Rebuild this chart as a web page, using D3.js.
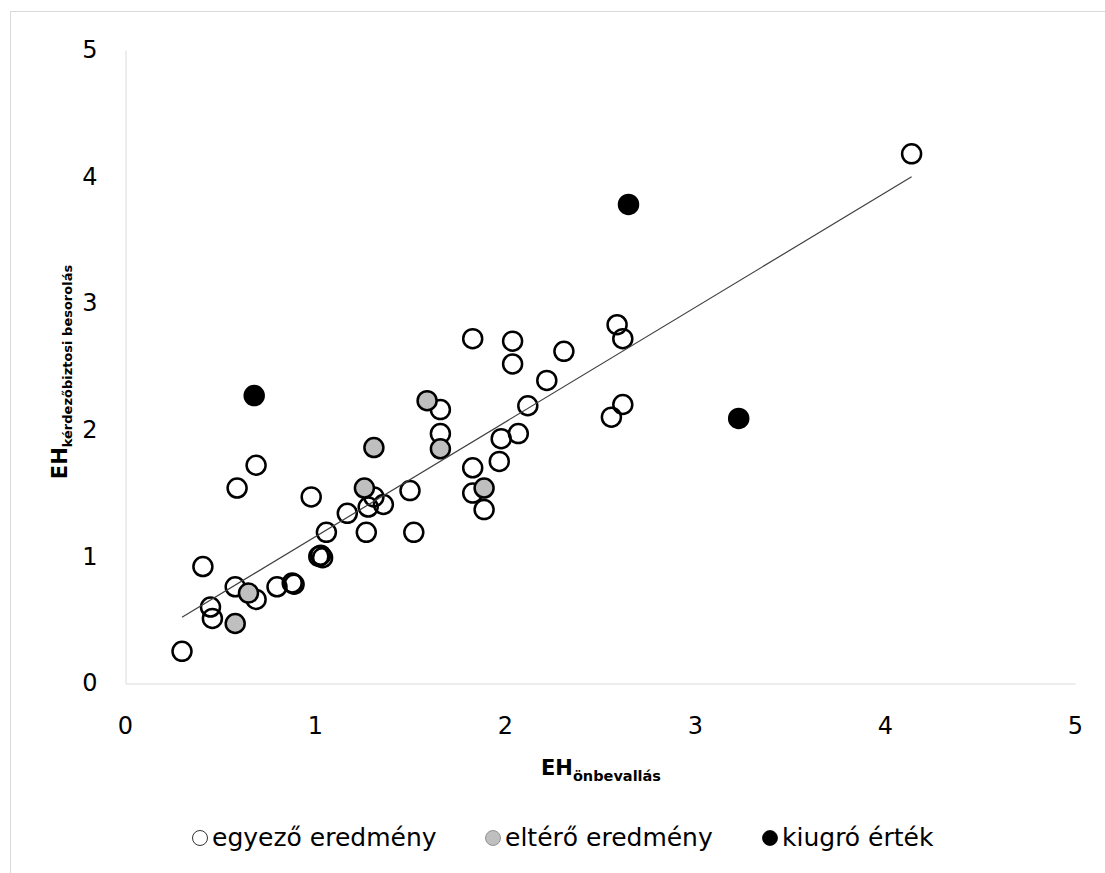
<!DOCTYPE html>
<html>
<head>
<meta charset="utf-8">
<script src="https://cdn.jsdelivr.net/npm/d3@7"></script>
<style>
  body { margin: 0; background: #fff; }
  text { font-family: "DejaVu Sans", sans-serif; }
</style>
</head>
<body>
<svg id="chart"></svg>
<script>
// egyező eredmény (open circles)
var openX = [0.30, 0.41, 0.45, 0.46, 0.58, 0.59, 0.69, 0.69, 0.80, 0.88, 0.89, 0.98, 1.02, 1.04, 1.03,
  1.06, 1.17, 1.27, 1.31, 1.28, 1.36, 1.50, 1.52, 1.66, 1.66, 1.83, 1.83, 1.83, 1.89, 1.97,
  1.98, 2.04, 2.04, 2.07, 2.12, 2.22, 2.31, 2.56, 2.59, 2.62, 2.62, 4.14];
var openY = [0.25, 0.92, 0.60, 0.51, 0.76, 1.54, 1.72, 0.66, 0.76, 0.79, 0.78, 1.47, 1.00, 0.99, 1.01,
  1.19, 1.34, 1.19, 1.47, 1.39, 1.41, 1.52, 1.19, 2.16, 1.97, 2.72, 1.70, 1.50, 1.37, 1.75,
  1.93, 2.70, 2.52, 1.97, 2.19, 2.39, 2.62, 2.10, 2.83, 2.72, 2.20, 4.18];
// eltérő eredmény (grey)
var greyX = [0.65, 0.58, 1.26, 1.31, 1.59, 1.66, 1.89];
var greyY = [0.71, 0.47, 1.54, 1.86, 2.23, 1.85, 1.54];
// kiugró érték (black)
var blackX = [0.68, 2.65, 3.23];
var blackY = [2.27, 3.78, 2.09];
// linear trend
var trendX = [0.30, 4.14];
var trendSlope = 0.906, trendIntercept = 0.248;
var ticks = [0, 1, 2, 3, 4, 5];
var legendLabels = ["egyező eredmény", "eltérő eredmény", "kiugró érték"];
var legendFills = ["#fff", "#bfbfbf", "#000"];

var W = 1105, H = 873;
var svg = d3.select('#chart').attr('width', W).attr('height', H);

// outer chart border (only top/left visible in the picture)
svg.append('rect')
  .attr('x', 10.5).attr('y', 11.5)
  .attr('width', 1110).attr('height', 880)
  .attr('fill', 'none').attr('stroke', '#d9d9d9');

var x = d3.scaleLinear().domain([0, 5]).range([125, 1075]);
var y = d3.scaleLinear().domain([0, 5]).range([683, 50]);

// axes
var xAxis = svg.append('g')
  .attr('transform', 'translate(0,683.5)')
  .call(d3.axisBottom(x).tickValues(ticks).tickFormat(d3.format('d')).tickSize(0).tickPadding(33));
var yAxis = svg.append('g')
  .attr('transform', 'translate(125.5,0)')
  .call(d3.axisLeft(y).tickValues(ticks).tickFormat(d3.format('d')).tickSize(0).tickPadding(28));
[xAxis, yAxis].forEach(function (a) {
  a.select('.domain').attr('stroke', '#d9d9d9').attr('stroke-width', 1);
  a.selectAll('text')
    .style('font-family', '"DejaVu Sans", sans-serif')
    .attr('font-size', 24).attr('fill', '#000');
});

// points
function drawPoints(xs, ys, fill) {
  svg.append('g').selectAll('circle')
    .data(xs.map(function (d, i) { return [d, ys[i]]; }))
    .join('circle')
    .attr('cx', function (d) { return x(d[0]); })
    .attr('cy', function (d) { return y(d[1]); })
    .attr('r', 9.5)
    .attr('fill', fill)
    .attr('stroke', '#000')
    .attr('stroke-width', 2.5);
}
drawPoints(openX, openY, 'none');
drawPoints(greyX, greyY, '#bfbfbf');
drawPoints(blackX, blackY, '#000');

// trend line
svg.append('path')
  .datum(trendX)
  .attr('fill', 'none')
  .attr('stroke', '#404040')
  .attr('stroke-width', 1.2)
  .attr('d', d3.line()
    .x(function (d) { return x(d); })
    .y(function (d) { return y(trendIntercept + trendSlope * d); }));

// axis titles
var xt = svg.append('text')
  .attr('x', 601).attr('y', 775)
  .attr('text-anchor', 'middle')
  .attr('font-weight', 'bold');
xt.append('tspan').attr('font-size', 21).text('EH');
xt.append('tspan').attr('font-size', 14.5).attr('dy', 6).text('önbevallás');

var yt = svg.append('text')
  .attr('transform', 'translate(67,372) rotate(-90)')
  .attr('text-anchor', 'middle')
  .attr('font-weight', 'bold');
yt.append('tspan').attr('font-size', 21).text('EH');
yt.append('tspan').attr('font-size', 13).attr('dy', 5).text('kérdezőbiztosi besorolás');

// legend
var legendX = [200, 493, 770];
var lg = svg.append('g').selectAll('g')
  .data(legendLabels)
  .join('g')
  .attr('transform', function (d, i) { return 'translate(' + legendX[i] + ',838)'; });
lg.append('circle')
  .attr('r', 7.5)
  .attr('fill', function (d, i) { return legendFills[i]; })
  .attr('stroke', function (d, i) { return i === 1 ? '#7f7f7f' : '#000'; })
  .attr('stroke-width', 0.8);
lg.append('text')
  .attr('x', 12).attr('y', 8)
  .attr('font-size', 25)
  .text(function (d) { return d; });
</script>
</body>
</html>
